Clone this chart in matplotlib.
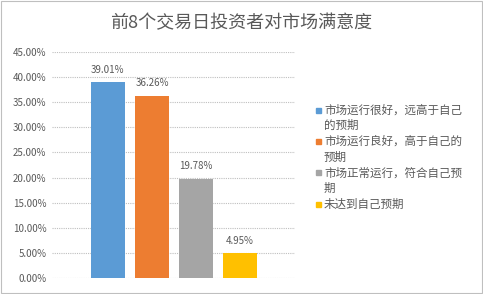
import matplotlib
matplotlib.use("Agg")
import matplotlib.pyplot as plt
from matplotlib.patches import Rectangle

plt.rcParams['font.family'] = ['Noto Sans CJK SC', 'DejaVu Sans']

title = "前8个交易日投资者对市场满意度"
categories = ["市场运行很好，远高于自己\n的预期", "市场运行良好，高于自己的\n预期",
              "市场正常运行，符合自己预\n期", "未达到自己预期"]
values = [39.01, 36.26, 19.78, 4.95]
colors = ["#5B9BD5", "#ED7D31", "#A5A5A5", "#FFC000"]
yticks = [0, 5, 10, 15, 20, 25, 30, 35, 40, 45]

W, H = 483, 294
fig = plt.figure(figsize=(W / 100, H / 100), dpi=100)
fig.patches.append(Rectangle((0.002, 0.003), 0.995, 0.994, transform=fig.transFigure,
                             fill=False, edgecolor="#BFBFBF", linewidth=0.8))

ax = fig.add_axes([52 / W, 1 - 278 / H, (295 - 52) / W, (278 - 52) / H])
x = list(range(len(values)))
ax.bar(x, values, width=0.77, color=colors, zorder=3)
for xi, v in zip(x, values):
    ax.text(xi, v + 1.5, f"{v:.2f}%", ha="center", va="bottom", fontsize=7, color="#595959")

ax.set_ylim(0, 45)
ax.set_xlim(-1.27, 4.25)
ax.set_yticks(yticks)
ax.set_yticklabels([f"{t:.2f}%" for t in yticks], fontsize=7, color="#595959")
ax.set_xticks([])
ax.yaxis.grid(True, linestyle=(0, (1, 1)), color="#BFBFBF", linewidth=0.8, zorder=0)
for s in ax.spines.values():
    s.set_visible(False)
ax.tick_params(axis="y", length=0, pad=4)

fig.text(0.5, 1 - 23 / H, title, ha="center", va="center", fontsize=13, color="#595959")

# manual legend with wrapped labels
line_px = 15.7
y_px = 110
for label, c in zip(categories, colors):
    fig.patches.append(Rectangle(((318 - 2.5) / W, 1 - (y_px + 2.5) / H), 5 / W, 5 / H,
                                 transform=fig.transFigure, facecolor=c, edgecolor=c))
    for line in label.split("\n"):
        fig.text(324 / W, 1 - y_px / H, line, ha="left", va="center", fontsize=8.3,
                 color="#595959")
        y_px += line_px

fig.savefig("out.png", dpi=100)
